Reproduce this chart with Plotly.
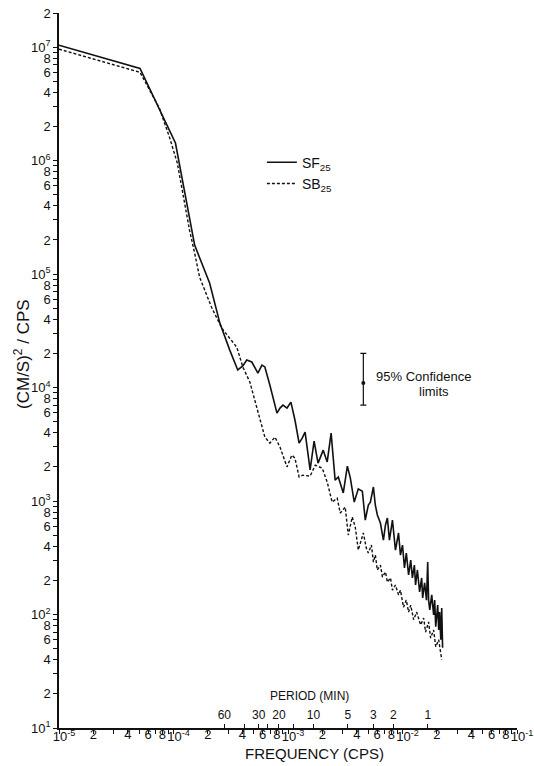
import plotly.graph_objects as go

# ---- spectral estimates: frequency (cps) and power density ((cm/s)^2/cps) ----
freq_sf25 = [
    1.0e-5, 5.1e-5, 1.04e-4, 1.53e-4, 2.07e-4, 2.54e-4, 3.10e-4, 3.64e-4, 4.03e-4,
    4.36e-4, 4.83e-4, 5.46e-4, 5.92e-4, 6.28e-4, 6.95e-4, 8.01e-4, 8.51e-4, 9.04e-4,
    9.80e-4, 1.06e-3, 1.15e-3, 1.25e-3, 1.33e-3, 1.41e-3, 1.56e-3, 1.69e-3, 1.83e-3,
    2.03e-3, 2.20e-3, 2.38e-3, 2.58e-3, 2.75e-3, 3.04e-3, 3.30e-3, 3.50e-3, 3.79e-3,
    4.11e-3, 4.46e-3, 4.73e-3, 5.03e-3, 5.24e-3, 5.57e-3, 5.79e-3, 6.03e-3, 6.41e-3,
    6.81e-3, 7.10e-3, 7.38e-3, 7.69e-3, 8.17e-3, 8.68e-3, 9.23e-3, 9.60e-3, 1.00e-2,
    1.04e-2, 1.08e-2, 1.13e-2, 1.18e-2, 1.22e-2, 1.27e-2, 1.30e-2, 1.35e-2, 1.41e-2,
    1.47e-2, 1.50e-2, 1.56e-2, 1.62e-2, 1.66e-2, 1.69e-2, 1.73e-2, 1.80e-2, 1.87e-2,
    1.91e-2, 1.95e-2, 2.03e-2, 2.07e-2, 2.11e-2, 2.16e-2, 2.20e-2, 2.24e-2,
]
psd_sf25 = [
    1.04e7, 6.5e6, 1.43e6, 1.8e5, 8.3e4, 3.7e4, 2.14e4, 1.43e4, 1.55e4,
    1.75e4, 1.68e4, 1.34e4, 1.58e4, 1.52e4, 1.05e4, 5.96e3, 6.6e3, 7.0e3,
    6.6e3, 7.45e3, 5.18e3, 3.24e3, 3.59e3, 4.05e3, 1.88e3, 3.38e3, 2.16e3,
    2.81e3, 2.21e3, 3.97e3, 1.53e3, 1.63e3, 1.18e3, 2.03e3, 1.60e3, 979,
    1.28e3, 1.22e3, 680, 922, 979, 1.33e3, 922, 753, 640,
    453, 615, 708, 453, 680, 370, 523, 334, 409,
    257, 348, 223, 302, 210, 273, 182, 247, 158,
    210, 140, 190, 134, 290, 134, 110, 149, 99,
    134, 78, 121, 73, 105, 60, 114, 51,
]

freq_sb25 = [
    1.0e-5, 5.1e-5, 7.53e-5, 9.22e-5, 1.08e-4, 1.20e-4, 1.38e-4, 1.53e-4, 1.69e-4,
    2.15e-4, 2.64e-4, 3.57e-4, 4.03e-4, 4.64e-4, 5.35e-4, 6.28e-4, 6.95e-4, 7.69e-4,
    8.51e-4, 9.80e-4, 1.08e-3, 1.15e-3, 1.25e-3, 1.35e-3, 1.56e-3, 1.73e-3, 1.99e-3,
    2.20e-3, 2.43e-3, 2.69e-3, 2.86e-3, 3.16e-3, 3.36e-3, 3.64e-3, 3.87e-3, 4.11e-3,
    4.55e-3, 4.83e-3, 5.03e-3, 5.35e-3, 5.57e-3, 5.79e-3, 6.03e-3, 6.41e-3, 6.68e-3,
    7.10e-3, 7.38e-3, 7.85e-3, 8.17e-3, 8.68e-3, 9.23e-3, 9.60e-3, 1.02e-2, 1.08e-2,
    1.13e-2, 1.18e-2, 1.25e-2, 1.33e-2, 1.44e-2, 1.53e-2, 1.59e-2, 1.69e-2, 1.76e-2,
    1.87e-2, 1.95e-2, 2.07e-2, 2.20e-2,
]
psd_sb25 = [
    9.6e6, 6.0e6, 2.9e6, 1.61e6, 9.5e5, 5.2e5, 2.44e5, 1.53e5, 9.4e4,
    5.1e4, 3.34e4, 2.27e4, 1.52e4, 1.12e4, 6.7e3, 3.66e3, 3.24e3, 3.66e3,
    2.99e3, 2.0e3, 2.54e3, 2.39e3, 1.63e3, 1.69e3, 1.66e3, 2.07e3, 1.95e3,
    1.47e3, 979, 1.06e3, 784, 885, 502, 723, 590, 370,
    523, 385, 348, 409, 290, 334, 247, 273, 214,
    237, 193, 210, 164, 182, 149, 164, 116, 134,
    105, 121, 90, 105, 81, 93, 70, 86, 62,
    73, 52, 60, 40,
]

# 95% confidence interval marker
ci_freq = 4.55e-3
ci_mid = 1.1e4
ci_low = 7.0e3
ci_high = 2.0e4

# ---- axis ticks ----
y_decades = [1, 2, 3, 4, 5, 6, 7]
labeled_mult = [2, 4, 6, 8]
minor_mult = [3, 5, 7, 9]
x_decades = [-5, -4, -3, -2, -1]

y_tickvals, y_ticktext = [], []
for d in y_decades:
    y_tickvals.append(10.0 ** d)
    y_ticktext.append(f"10<sup>{d}</sup>")
    for m in labeled_mult + minor_mult:
        v = m * 10.0 ** d
        if v <= 2.0e7:
            y_tickvals.append(v)
            y_ticktext.append(str(m) if m in labeled_mult else "")

# frequency axis: tick marks + 2/4/6/8 labels on the main axis,
# decade labels set slightly lower on their own label-only axis
x_tickvals, x_ticktext = [], []
for d in x_decades:
    x_tickvals.append(10.0 ** d)
    x_ticktext.append("")
    if d < -1:
        for m in labeled_mult + minor_mult:
            x_tickvals.append(m * 10.0 ** d)
            x_ticktext.append(str(m) if m in labeled_mult else "")
x_decade_vals = [10.0 ** d for d in x_decades]
x_decade_text = [f"10<sup>{d}</sup>" for d in x_decades]

# period scale (minutes) drawn along the frequency axis
period_minutes = [60, 40, 30, 25, 20, 15, 10, 5, 3, 2, 1]
period_labels = ["60", "", "30", "", "20", "", "10", "5", "3", "2", "1"]
period_freqs = [1.0 / (60.0 * p) for p in period_minutes]

FONT = "Liberation Sans"
INK = "#111111"

fig = go.Figure()

fig.add_trace(go.Scatter(
    x=freq_sf25, y=psd_sf25, mode="lines", name="SF<sub>25</sub>",
    line=dict(color=INK, width=1.6),
))
fig.add_trace(go.Scatter(
    x=freq_sb25, y=psd_sb25, mode="lines", name="SB<sub>25</sub>",
    line=dict(color=INK, width=1.4, dash="3px,2px"),
))
fig.add_trace(go.Scatter(
    x=[ci_freq], y=[ci_mid], mode="markers", showlegend=False,
    marker=dict(color=INK, size=4),
    error_y=dict(type="data", symmetric=False,
                 array=[ci_high - ci_mid], arrayminus=[ci_mid - ci_low],
                 color=INK, thickness=1.2, width=3),
))
# carriers for the auxiliary axes
fig.add_trace(go.Scatter(x=[], y=[], xaxis="x2", showlegend=False, hoverinfo="skip"))
fig.add_trace(go.Scatter(x=[], y=[], xaxis="x3", showlegend=False, hoverinfo="skip"))

axis_common = dict(
    showgrid=False, zeroline=False, showline=True, linecolor=INK, linewidth=1.5,
    ticks="outside", ticklen=4, tickwidth=1, tickcolor=INK, automargin=False,
    tickangle=0, tickfont=dict(family=FONT, size=13, color=INK),
)

fig.update_layout(
    width=534, height=766,
    margin=dict(l=59, r=17, t=13, b=38),
    paper_bgcolor="white", plot_bgcolor="white",
    font=dict(family=FONT, color=INK),
    xaxis=dict(type="log", range=[-5, -1], tickmode="array",
               tickvals=x_tickvals, ticktext=x_ticktext,
               ticklabelstandoff=-10, **axis_common),
    yaxis=dict(type="log", range=[1, 7.30103], tickmode="array",
               tickvals=y_tickvals, ticktext=y_ticktext, **axis_common),
    xaxis2=dict(type="log", range=[-5, -1], overlaying="x", anchor="free",
                position=0, side="top", showgrid=False, zeroline=False,
                showline=False, ticks="outside", ticklen=4, tickwidth=1,
                tickcolor=INK, tickmode="array", tickvals=period_freqs,
                ticktext=period_labels, tickangle=0, automargin=False,
                tickfont=dict(family=FONT, size=12, color=INK)),
    # decade labels: "10" sits on the tick with the exponent to its right
    xaxis3=dict(type="log", range=[-5, -1], overlaying="x", anchor="y",
                side="bottom", showgrid=False, zeroline=False, showline=False,
                ticks="", tickmode="array", tickvals=x_decade_vals,
                ticktext=x_decade_text, tickangle=0, automargin=False,
                ticklabelstandoff=-1, ticklabelshift=5,
                tickfont=dict(family=FONT, size=13, color=INK)),
    showlegend=True,
    legend=dict(x=0.443, y=0.813, xanchor="left", yanchor="top",
                bgcolor="rgba(0,0,0,0)", borderwidth=0, itemwidth=30,
                font=dict(family=FONT, size=14, color=INK), tracegroupgap=0),
    annotations=[
        dict(text="(CM/S)<sup>2</sup> / CPS", xref="paper", yref="paper",
             x=-0.081, y=0.523, xanchor="center", yanchor="middle",
             textangle=-90, showarrow=False,
             font=dict(family=FONT, size=17, color=INK)),
        dict(text="FREQUENCY (CPS)", xref="paper", yref="paper",
             x=0.557, y=-0.035, xanchor="center", yanchor="middle",
             showarrow=False, font=dict(family=FONT, size=15, color=INK)),
        dict(text="PERIOD (MIN)", xref="paper", yref="paper",
             x=0.548, y=0.045, xanchor="center", yanchor="middle",
             showarrow=False, font=dict(family=FONT, size=12, color=INK)),
        dict(text="95% Confidence", xref="paper", yref="paper",
             x=0.688, y=0.492, xanchor="left", yanchor="middle",
             showarrow=False, font=dict(family=FONT, size=13, color=INK)),
        dict(text="limits", xref="paper", yref="paper",
             x=0.819, y=0.471, xanchor="center", yanchor="middle",
             showarrow=False, font=dict(family=FONT, size=13, color=INK)),
    ],
)

fig.write_html("out.html")
